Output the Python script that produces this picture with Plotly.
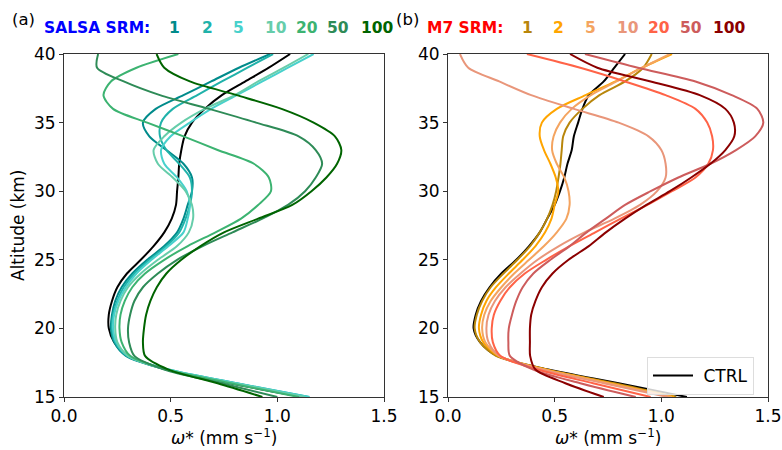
import plotly.graph_objects as go

altitude = list(range(15, 41))  # km, 15..40

srm_labels = ["1", "2", "5", "10", "20", "50", "100"]

# ---- SALSA (panel a) ----
salsa_ctrl = [1.12, 0.78, 0.48, 0.30, 0.235, 0.21, 0.21, 0.225, 0.25, 0.295, 0.36, 0.42, 0.47, 0.505,
              0.525, 0.53, 0.536, 0.54, 0.55, 0.565, 0.60, 0.66, 0.74, 0.85, 0.96, 1.06]
salsa_1 = [1.14, 0.80, 0.48, 0.29, 0.235, 0.22, 0.225, 0.24, 0.27, 0.32, 0.39, 0.47, 0.53, 0.56,
           0.58, 0.60, 0.60, 0.56, 0.48, 0.40, 0.37, 0.43, 0.56, 0.69, 0.82, 0.966]
salsa_2 = [1.15, 0.81, 0.49, 0.295, 0.24, 0.225, 0.23, 0.25, 0.28, 0.33, 0.40, 0.48, 0.54, 0.57,
           0.59, 0.60, 0.59, 0.54, 0.48, 0.45, 0.455, 0.51, 0.625, 0.74, 0.86, 0.98]
salsa_5 = [1.15, 0.81, 0.49, 0.30, 0.245, 0.23, 0.235, 0.255, 0.29, 0.34, 0.41, 0.49, 0.56, 0.58,
           0.59, 0.575, 0.53, 0.47, 0.455, 0.50, 0.59, 0.69, 0.81, 0.93, 1.05, 1.17]
salsa_10 = [1.13, 0.80, 0.48, 0.30, 0.25, 0.24, 0.245, 0.265, 0.30, 0.36, 0.44, 0.53, 0.585, 0.605,
            0.60, 0.57, 0.51, 0.44, 0.42, 0.47, 0.55, 0.66, 0.80, 0.91, 1.03, 1.145]
salsa_20 = [1.10, 0.78, 0.48, 0.31, 0.27, 0.26, 0.265, 0.285, 0.32, 0.38, 0.47, 0.58, 0.71, 0.83,
            0.91, 0.97, 0.96, 0.89, 0.72, 0.56, 0.39, 0.23, 0.185, 0.22, 0.34, 0.536]
salsa_50 = [1.00, 0.74, 0.47, 0.33, 0.305, 0.30, 0.31, 0.33, 0.37, 0.44, 0.53, 0.65, 0.79, 0.93,
            1.05, 1.13, 1.18, 1.21, 1.18, 1.10, 0.90, 0.68, 0.45, 0.28, 0.155, 0.16]
salsa_100 = [0.93, 0.72, 0.49, 0.38, 0.37, 0.375, 0.385, 0.405, 0.435, 0.48, 0.55, 0.64, 0.75, 0.91,
             1.07, 1.16, 1.23, 1.28, 1.30, 1.27, 1.17, 1.02, 0.81, 0.59, 0.47, 0.434]

# ---- M7 (panel b) ----
m7_ctrl = [1.12, 0.80, 0.47, 0.23, 0.15, 0.12, 0.13, 0.155, 0.195, 0.25, 0.32, 0.38, 0.43, 0.465,
           0.50, 0.525, 0.545, 0.56, 0.58, 0.59, 0.61, 0.63, 0.66, 0.73, 0.78, 0.83]
m7_1 = [1.07, 0.78, 0.46, 0.225, 0.15, 0.125, 0.135, 0.16, 0.20, 0.26, 0.325, 0.385, 0.43, 0.465,
        0.49, 0.507, 0.518, 0.527, 0.533, 0.54, 0.57, 0.63, 0.71, 0.83, 0.915, 0.955]
m7_2 = [1.06, 0.76, 0.46, 0.235, 0.165, 0.145, 0.155, 0.18, 0.225, 0.285, 0.35, 0.41, 0.455, 0.485,
        0.50, 0.517, 0.505, 0.48, 0.45, 0.43, 0.44, 0.51, 0.645, 0.785, 0.91, 1.05]
m7_5 = [1.05, 0.75, 0.45, 0.24, 0.175, 0.16, 0.17, 0.20, 0.25, 0.31, 0.38, 0.45, 0.51, 0.555,
        0.57, 0.565, 0.545, 0.51, 0.488, 0.495, 0.525, 0.58, 0.67, 0.79, 0.91, 1.04]
m7_10 = [1.03, 0.73, 0.44, 0.24, 0.19, 0.18, 0.19, 0.22, 0.27, 0.34, 0.42, 0.52, 0.64, 0.78,
         0.90, 0.98, 1.02, 1.02, 1.00, 0.94, 0.80, 0.59, 0.39, 0.24, 0.095, 0.056]
m7_20 = [0.95, 0.68, 0.42, 0.245, 0.21, 0.205, 0.215, 0.245, 0.29, 0.36, 0.46, 0.57, 0.69, 0.81,
         0.935, 1.05, 1.16, 1.22, 1.242, 1.238, 1.215, 1.16, 1.02, 0.83, 0.62, 0.37]
m7_50 = [0.88, 0.62, 0.40, 0.29, 0.283, 0.285, 0.30, 0.32, 0.35, 0.40, 0.48, 0.57, 0.65, 0.74,
         0.83, 0.95, 1.08, 1.23, 1.35, 1.44, 1.478, 1.45, 1.33, 1.16, 0.89, 0.642]
m7_100 = [0.73, 0.55, 0.41, 0.385, 0.384, 0.384, 0.39, 0.41, 0.44, 0.49, 0.565, 0.66, 0.74, 0.83,
          0.93, 1.04, 1.14, 1.23, 1.30, 1.342, 1.34, 1.30, 1.18, 0.95, 0.70, 0.572]

salsa_series = [salsa_1, salsa_2, salsa_5, salsa_10, salsa_20, salsa_50, salsa_100]
m7_series = [m7_1, m7_2, m7_5, m7_10, m7_20, m7_50, m7_100]

salsa_colors = ["#008B8B", "#20B2AA", "#48D1CC", "#66CDAA", "#3CB371", "#2E8B57", "#006400"]
m7_colors = ["#B8860B", "#FFA500", "#F4A460", "#E9967A", "#FF6347", "#CD5C5C", "#8B0000"]

W, H = 782, 450
FONT = "DejaVu Sans"

fig = go.Figure()

def add_line(x, color, xa, ya, name=None, show=False):
    fig.add_trace(go.Scatter(
        x=x, y=altitude, mode="lines", xaxis=xa, yaxis=ya,
        line=dict(color=color, width=2, shape="spline", smoothing=0.8),
        name=name, showlegend=show, hoverinfo="skip"))

add_line(salsa_ctrl, "black", "x", "y")
for s, c in zip(salsa_series, salsa_colors):
    add_line(s, c, "x", "y")
add_line(m7_ctrl, "black", "x2", "y2", name=" CTRL", show=True)
for s, c in zip(m7_series, m7_colors):
    add_line(s, c, "x2", "y2")

axis_common = dict(
    showgrid=False, zeroline=False, showline=True, linecolor="#333", linewidth=1,
    mirror=True, ticks="outside", ticklen=4, tickcolor="#333", automargin=False,
    tickfont=dict(family=FONT, size=17, color="black"),
)

fig.update_layout(
    template="none",
    width=W, height=H,
    margin=dict(l=0, r=0, t=0, b=0, pad=0),
    plot_bgcolor="white", paper_bgcolor="white",
    font=dict(family=FONT, size=17, color="black"),
    xaxis=dict(domain=[64 / W, 384 / W], range=[0, 1.5], tickvals=[0, 0.5, 1.0, 1.5],
               tickformat=".1f", anchor="y", **axis_common),
    yaxis=dict(domain=[1 - 397 / H, 1 - 54 / H], range=[15, 40], tickvals=[15, 20, 25, 30, 35, 40],
               anchor="x", **axis_common),
    xaxis2=dict(domain=[448 / W, 768 / W], range=[0, 1.5], tickvals=[0, 0.5, 1.0, 1.5],
                tickformat=".1f", anchor="y2", **axis_common),
    yaxis2=dict(domain=[1 - 397 / H, 1 - 54 / H], range=[15, 40], tickvals=[15, 20, 25, 30, 35, 40],
                anchor="x2", **axis_common),
    legend=dict(x=647 / W, y=1 - 357 / H, xanchor="left", yanchor="top",
                bgcolor="rgba(255,255,255,0.8)", bordercolor="#ddd", borderwidth=1,
                font=dict(family=FONT, size=17), itemwidth=40),
)

ann = []
def text(px, py, t, color="black", size=17, bold=False, anchor="center", angle=0):
    if bold:
        t = "<b>" + t + "</b>"
    ann.append(dict(x=px / W, y=1 - py / H, xref="paper", yref="paper", text=t,
                    showarrow=False, xanchor=anchor, yanchor="middle", textangle=angle,
                    font=dict(family=FONT, size=size, color=color)))

xtitle = "<i>ω</i>* (mm s<sup>−1</sup>)"
text(224, 437, xtitle)
text(608, 437, xtitle)
text(18, 225, "Altitude (km)", angle=-90)
text(10, 20, "(a)", anchor="left", size=16.5)
text(394, 20, "(b)", anchor="left", size=16.5)
text(42, 28, "SALSA SRM:", color="blue", size=15.5, bold=True, anchor="left")
text(425, 28, "M7 SRM:", color="red", size=15.5, bold=True, anchor="left")
for lab, c, px in zip(srm_labels, salsa_colors, [174, 207, 238, 276, 307, 338, 377]):
    text(px, 28, lab, color=c, size=15.5, bold=True)
for lab, c, px in zip(srm_labels, m7_colors, [527, 558, 590, 628, 659, 691, 729]):
    text(px, 28, lab, color=c, size=15.5, bold=True)

fig.update_layout(annotations=ann)
fig.write_html("out.html")
